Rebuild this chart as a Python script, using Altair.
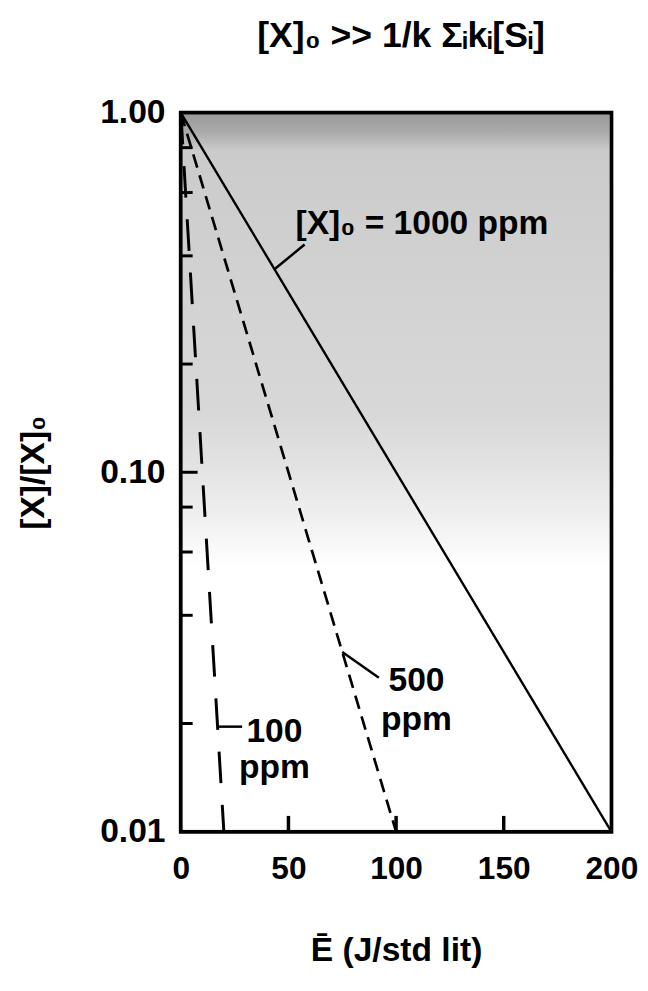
import altair as alt
import pandas as pd

# ---- data ----
series_names = ["1000 ppm", "500 ppm", "100 ppm"]
energy_start = [0, 0, 0]
energy_end = [200, 100, 20]
ratio_start = [1.0, 1.0, 1.0]
ratio_end = [0.01, 0.01, 0.01]

x_ticks = [50, 100, 150]
y_minor_ticks = [0.02, 0.04, 0.06, 0.08, 0.2, 0.4, 0.6, 0.8]
y_major_ticks = [0.1]
y_label_values = [0.01, 0.1, 1.0]
x_label_values = [0, 50, 100, 150, 200]

label_texts = ["[X]\u2080 = 1000 ppm", "500", "ppm", "100", "ppm"]
label_x = [112, 109.5, 109.5, 43.5, 43.5]
label_y = [0.49, 0.0262, 0.0205, 0.0189, 0.0150]

leader_series = ["1000", "1000", "500", "500", "100", "100"]
leader_x = [43.5, 57.5, 75, 92, 17.2, 28.5]
leader_y = [0.367, 0.43, 0.0316, 0.0268, 0.0196, 0.0196]

W, H = 436, 728
FONT = "Liberation Sans"

rows = []
for n, x0, x1, y0, y1 in zip(series_names, energy_start, energy_end, ratio_start, ratio_end):
    rows.append({"series": n, "E": x0, "R": y0})
    rows.append({"series": n, "E": x1, "R": y1})
lines_df = pd.DataFrame(rows)

xs = alt.Scale(domain=[0, 200], nice=False, zero=False)
ys = alt.Scale(type="log", domain=[0.01, 1.0], nice=False)

xaxis = alt.Axis(
    values=x_label_values, tickSize=0, domain=False, grid=False,
    labelFontSize=32, labelFont=FONT, labelFontWeight="bold", labelColor="black",
    labelPadding=22, labelFlush=False,
    title="\u0112 (J/std lit)", titleFontSize=34, titleFont=FONT, titleFontWeight="bold",
    titleColor="black", titlePadding=50,
)
yaxis = alt.Axis(
    values=y_label_values, format=".2f", tickSize=0, domain=False, grid=False,
    labelFontSize=34, labelFont=FONT, labelFontWeight="bold", labelColor="black",
    labelPadding=16, labelFlush=False,
    title="[X]/[X]\u2080", titleFontSize=34, titleFont=FONT, titleFontWeight="bold",
    titleColor="black", titlePadding=50,
)

bg = alt.Chart(pd.DataFrame({"a": [1]})).mark_rect(
    color=alt.Gradient(
        gradient="linear", x1=0, x2=0, y1=0, y2=1,
        stops=[
            alt.GradientStop(offset=0.0, color="#9a9a9a"),
            alt.GradientStop(offset=0.025, color="#ababab"),
            alt.GradientStop(offset=0.05, color="#cbcbcb"),
            alt.GradientStop(offset=0.3, color="#d4d4d4"),
            alt.GradientStop(offset=0.42, color="#d8d8d8"),
            alt.GradientStop(offset=0.5, color="#e4e4e4"),
            alt.GradientStop(offset=0.58, color="#f3f3f3"),
            alt.GradientStop(offset=0.63, color="#ffffff"),
            alt.GradientStop(offset=1.0, color="#ffffff"),
        ],
    )
).encode(x=alt.value(2), x2=alt.value(W - 2), y=alt.value(2), y2=alt.value(H - 2))

lines = alt.Chart(lines_df).mark_line(color="black").encode(
    x=alt.X("E:Q", scale=xs, axis=xaxis),
    y=alt.Y("R:Q", scale=ys, axis=yaxis),
    detail="series:N",
    strokeDash=alt.StrokeDash(
        "series:N",
        scale=alt.Scale(domain=series_names, range=[[1, 0], [14, 8], [32, 22]]),
        legend=None,
    ),
    strokeWidth=alt.StrokeWidth(
        "series:N",
        scale=alt.Scale(domain=series_names, range=[2.4, 3.0, 2.6]),
        legend=None,
    ),
)

yticks_minor = alt.Chart(pd.DataFrame({"v": y_minor_ticks})).mark_rule(color="black", strokeWidth=3).encode(
    y=alt.Y("v:Q", scale=ys), x=alt.value(0), x2=alt.value(12))
yticks_major = alt.Chart(pd.DataFrame({"v": y_major_ticks})).mark_rule(color="black", strokeWidth=3).encode(
    y=alt.Y("v:Q", scale=ys), x=alt.value(0), x2=alt.value(17))
xticks = alt.Chart(pd.DataFrame({"v": x_ticks})).mark_rule(color="black", strokeWidth=3.5).encode(
    x=alt.X("v:Q", scale=xs), y=alt.value(H), y2=alt.value(H - 16))

leader_df = pd.DataFrame({"s": leader_series, "x": leader_x, "y": leader_y})
leaders = alt.Chart(leader_df).mark_line(color="black", strokeWidth=2.5).encode(
    x=alt.X("x:Q", scale=xs), y=alt.Y("y:Q", scale=ys), detail="s:N")

lab_df = pd.DataFrame({"t": label_texts, "x": label_x, "y": label_y})
labels = alt.Chart(lab_df).mark_text(
    font=FONT, fontWeight="bold", fontSize=34, color="black", align="center", baseline="middle"
).encode(x=alt.X("x:Q", scale=xs), y=alt.Y("y:Q", scale=ys), text="t:N")

chart = alt.layer(bg, lines, yticks_minor, yticks_major, xticks, leaders, labels).properties(
    width=W, height=H,
    background="white",
    title=alt.TitleParams(
        "[X]\u2080 >> 1/k \u03a3\u1d62k\u1d62[S\u1d62]",
        font=FONT, fontSize=36, fontWeight="bold", color="black",
        anchor="middle", offset=42, dx=5,
    ),
    autosize=alt.AutoSizeParams(type="none"),
    padding={"left": 175, "top": 100, "right": 29, "bottom": 142},
).configure_view(stroke="black", strokeWidth=4)

chart.save("out.html", embed_options={"renderer": "svg", "actions": False})
